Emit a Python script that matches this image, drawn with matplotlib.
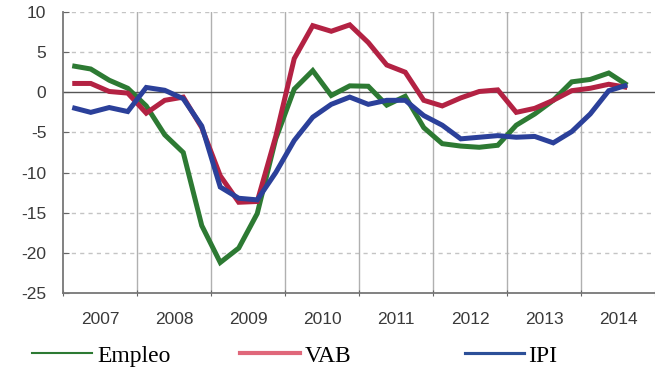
"""
Empleo, VAB e IPI: tasas de variación interanual trimestrales, 2007-2014.
"""
import numpy as np
import matplotlib
matplotlib.use("Agg")
import matplotlib.pyplot as plt
from matplotlib.lines import Line2D

# trimestres 2007T1 .. 2014T3
years = list(range(2007, 2015))
n_quarters = 31

empleo = [3.3, 2.9, 1.5, 0.5, -1.7, -5.3, -7.5, -16.6, -21.2, -19.4, -15.1,
          -5.8, 0.4, 2.7, -0.4, 0.8, 0.75, -1.6, -0.5, -4.4, -6.4, -6.7,
          -6.85, -6.6, -4.1, -2.7, -1.0, 1.3, 1.6, 2.4, 0.9]
vab = [1.1, 1.1, 0.1, -0.1, -2.6, -1.0, -0.6, -4.4, -10.4, -13.7, -13.6,
       -5.5, 4.2, 8.3, 7.6, 8.4, 6.2, 3.4, 2.5, -1.0, -1.7, -0.7,
       0.1, 0.3, -2.5, -2.0, -1.0, 0.2, 0.5, 1.0, 0.6]
ipi = [-1.9, -2.5, -1.9, -2.4, 0.6, 0.25, -0.8, -4.2, -11.8, -13.2, -13.4,
       -10.0, -6.0, -3.1, -1.5, -0.6, -1.5, -1.0, -1.0, -2.9, -4.1, -5.8,
       -5.6, -5.4, -5.6, -5.5, -6.3, -4.9, -2.7, 0.2, 0.9]

series = [("Empleo", empleo, "#2d7a33", "#2d7a33", 2.0),
          ("VAB", vab, "#b32243", "#e0677a", 4.0),
          ("IPI", ipi, "#2b409a", "#2c4f98", 3.0)]

x = 2007 + (np.arange(n_quarters) + 0.5) / 4

fig = plt.figure(figsize=(6.55, 3.71), dpi=100)
ax = fig.add_axes([63 / 655, 1 - 293 / 371, 592 / 655, 281 / 371])

for name, vals, color, _, _ in series:
    ax.plot(x, vals, color=color, lw=3.6, solid_joinstyle="miter",
            solid_capstyle="butt", zorder=3)

ax.set_xlim(2007, 2015)
ax.set_ylim(-25, 10)

# rejilla horizontal discontinua y eje cero
for yv in [10, 5, -5, -10, -15, -20]:
    ax.axhline(yv, color="#c4c4c4", lw=1, ls=(0, (3, 3)), zorder=1)
ax.axhline(0, color="#555555", lw=1, zorder=2)
for yr in years[1:]:
    ax.axvline(yr, color="#b0b0b0", lw=1, zorder=1)

ax.set_yticks([10, 5, 0, -5, -10, -15, -20, -25])
ax.set_yticklabels(["10", "5", "0", "-5", "-10", "-15", "-20", "-25"])
ax.set_xticks(years + [2015])
ax.set_xticklabels([])
ax.set_xticks([y + 0.5 for y in years], minor=True)
ax.set_xticklabels([str(y) for y in years], minor=True)
ax.tick_params(axis="x", which="minor", length=0, pad=14)
ax.tick_params(axis="x", which="major", direction="inout", length=5,
               color="#666666")
ax.tick_params(axis="y", direction="in", length=4, color="#666666", pad=12)
ax.tick_params(which="both", labelsize=12.5, labelcolor="#3a3a3a")
for lab in ax.get_xticklabels(minor=True) + ax.get_yticklabels():
    lab.set_family("Liberation Sans")

for side in ["top", "right"]:
    ax.spines[side].set_visible(False)
for side in ["left", "bottom"]:
    ax.spines[side].set_color("#777777")
    ax.spines[side].set_linewidth(1.3)

# leyenda dibujada a mano bajo el gráfico
legend_pos = [(32, 92, 97), (240, 300, 305), (465, 524, 528)]
ly = 1 - 353 / 371
for (name, _, _, lcolor, lw), (x0, x1, xt) in zip(series, legend_pos):
    fig.add_artist(Line2D([x0 / 655, x1 / 655], [ly, ly], color=lcolor,
                          lw=lw * 0.75, transform=fig.transFigure))
    fig.text(xt / 655, 1 - 362 / 371, name, family="Liberation Serif",
             fontsize=17, color="black", va="baseline", ha="left")

fig.savefig("out.png", dpi=100)
